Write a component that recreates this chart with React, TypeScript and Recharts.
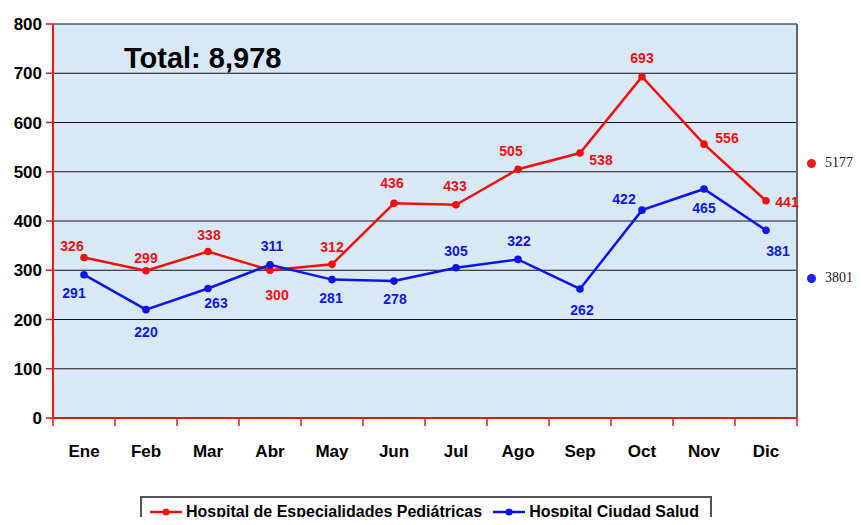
import React from "react";
import { LineChart, Line, XAxis, YAxis, CartesianGrid, LabelList } from "recharts";

const months = ["Ene", "Feb", "Mar", "Abr", "May", "Jun", "Jul", "Ago", "Sep", "Oct", "Nov", "Dic"];
const pediatricas = [326, 299, 338, 300, 312, 436, 433, 505, 538, 693, 556, 441];
const ciudadSalud = [291, 220, 263, 311, 281, 278, 305, 322, 262, 422, 465, 381];
const yTicks = [0, 100, 200, 300, 400, 500, 600, 700, 800];

const seriesRedName = "Hospital de Especialidades Pediátricas";
const seriesBlueName = "Hospital Ciudad Salud";
const totalLabel = "Total: 8,978";
const sideTotals = ["5177", "3801"];

// label placement offsets (dx, dy) relative to each point
const redLabelOffsets: [number, number][] = [
  [-12, -11], [0, -13], [1, -17], [7, 25], [0, -17], [-2, -20],
  [-1, -19], [-7, -18], [21, 7], [0, -19], [23, -6], [21, 1],
];
const blueLabelOffsets: [number, number][] = [
  [-10, 18], [0, 22], [8, 15], [2, -19], [-1, 18], [1, 18],
  [0, -17], [1, -18], [2, 21], [-18, -11], [0, 19], [12, 21],
];

const data = months.map((m, i) => ({ month: m, red: pediatricas[i], blue: ciudadSalud[i] }));

const FONT = "'Liberation Sans', Arial, sans-serif";

const makeLabel = (offsets: [number, number][], color: string) => (props: any) => {
  const { x, y, value, index } = props;
  const [dx, dy] = offsets[index] || [0, -15];
  return (
    <text
      x={x + dx}
      y={y + dy}
      textAnchor="middle"
      dominantBaseline="central"
      fill={color}
      fontFamily={FONT}
      fontWeight="bold"
      fontSize={14}
    >
      {value}
    </text>
  );
};

const XTick = (props: any) => {
  const { x, payload, index } = props;
  const half = 31;
  return (
    <g>
      <line x1={x - half} y1={418} x2={x - half} y2={426} stroke="#e8141c" strokeWidth={1.5} />
      {index === months.length - 1 && (
        <line x1={x + half} y1={418} x2={x + half} y2={426} stroke="#e8141c" strokeWidth={1.5} />
      )}
      <text
        x={x}
        y={418 + 33}
        textAnchor="middle"
        dominantBaseline="central"
        fill="#000"
        fontFamily={FONT}
        fontWeight="bold"
        fontSize={17}
      >
        {payload.value}
      </text>
    </g>
  );
};

const LegendIcon = ({ color }: { color: string }) => (
  <svg width={34} height={12} style={{ marginRight: 3 }}>
    <line x1={1} y1={6} x2={33} y2={6} stroke={color} strokeWidth={2.5} />
    <circle cx={17} cy={6} r={3.5} fill={color} />
  </svg>
);

export default function App() {
  return (
    <div style={{ position: "relative", width: 861, height: 525, margin: -8, background: "#fff", overflow: "hidden" }}>
      <LineChart width={861} height={525} data={data} margin={{ top: 24, right: 64, left: 0, bottom: 0 }}>
        <CartesianGrid fill="#d9e8f6" stroke="#111" strokeWidth={1.2} vertical={false} />
        <CartesianGrid
          horizontal={false}
          stroke="#666"
          strokeWidth={2}
          fill="none"
          verticalCoordinatesGenerator={({ offset }: any) => [offset.left + offset.width]}
        />
        <XAxis
          dataKey="month"
          height={107}
          padding={{ left: 31, right: 31 }}
          axisLine={{ stroke: "#e8141c", strokeWidth: 2 }}
          tickLine={false}
          tick={<XTick />}
          interval={0}
        />
        <YAxis
          width={53}
          domain={[0, 800]}
          ticks={yTicks}
          interval={0}
          axisLine={{ stroke: "#e8141c", strokeWidth: 2 }}
          tickLine={{ stroke: "#e8141c", strokeWidth: 1.5 }}
          tickSize={7}
          tickMargin={4}
          tick={{ fill: "#000", fontFamily: FONT, fontWeight: "bold", fontSize: 17 }}
        />
        <Line
          dataKey="red"
          name={seriesRedName}
          stroke="#f50d0d"
          strokeWidth={2.5}
          dot={{ r: 3.8, fill: "#f50d0d", stroke: "#f50d0d", strokeWidth: 0 }}
          isAnimationActive={false}
        >
          <LabelList dataKey="red" content={makeLabel(redLabelOffsets, "#f21010")} />
        </Line>
        <Line
          dataKey="blue"
          name={seriesBlueName}
          stroke="#0a14f0"
          strokeWidth={2.5}
          dot={{ r: 3.8, fill: "#0a14f0", stroke: "#0a14f0", strokeWidth: 0 }}
          isAnimationActive={false}
        >
          <LabelList dataKey="blue" content={makeLabel(blueLabelOffsets, "#0d18e8")} />
        </Line>
      </LineChart>

      <div
        style={{
          position: "absolute",
          left: 124,
          top: 42,
          fontFamily: FONT,
          fontWeight: "bold",
          fontSize: 29,
          color: "#000",
          lineHeight: "32px",
        }}
      >
        {totalLabel}
      </div>

      {[
        { text: sideTotals[0], color: "#f01818", top: 154 },
        { text: sideTotals[1], color: "#1a22e8", top: 269 },
      ].map((s) => (
        <div
          key={s.text}
          style={{
            position: "absolute",
            left: 807,
            top: s.top,
            display: "flex",
            alignItems: "center",
            fontFamily: "'Liberation Serif', serif",
            fontSize: 14,
            color: "#222",
            lineHeight: "18px",
            whiteSpace: "nowrap",
          }}
        >
          <span
            style={{ display: "inline-block", width: 9, height: 9, borderRadius: "50%", background: s.color, marginRight: 9 }}
          />
          {s.text}
        </div>
      ))}

      <div
        style={{
          position: "absolute",
          left: 140,
          top: 496,
          width: 572,
          height: 36,
          border: "2px solid #555",
          boxSizing: "border-box",
          display: "flex",
          alignItems: "flex-start",
          paddingTop: 5,
          paddingLeft: 7,
          fontFamily: FONT,
          fontWeight: "bold",
          fontSize: 16,
          color: "#000",
          background: "#fff",
        }}
      >
        <span style={{ display: "flex", alignItems: "center", marginRight: 10 }}>
          <LegendIcon color="#f50d0d" />
          {seriesRedName}
        </span>
        <span style={{ display: "flex", alignItems: "center" }}>
          <LegendIcon color="#0a14f0" />
          {seriesBlueName}
        </span>
      </div>
    </div>
  );
}
